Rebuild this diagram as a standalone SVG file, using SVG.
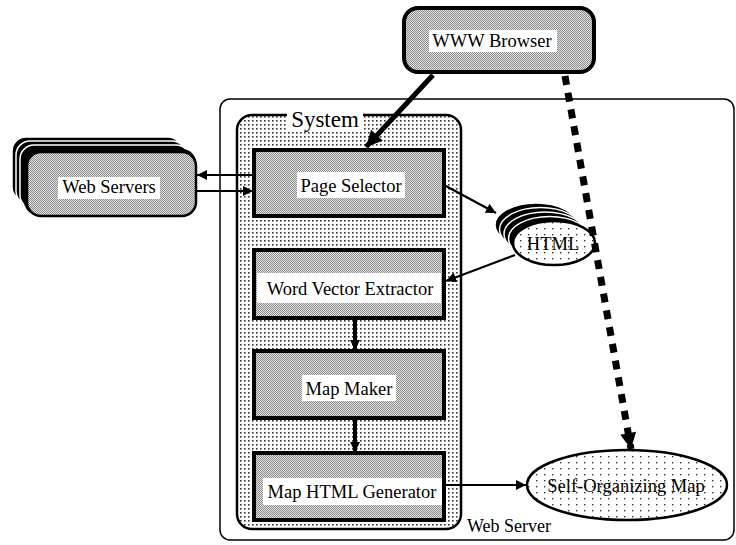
<svg xmlns="http://www.w3.org/2000/svg" width="736" height="545" viewBox="0 0 736 545">
<style>
text{font-family:"Liberation Serif","Times New Roman",serif;fill:#000}
.lbl{font-size:18.5px;text-anchor:middle}
.box{fill:url(#dense);stroke:#000;stroke-width:4}
.wbg{fill:#fff}
.thin{stroke:#000;stroke-width:2.2;fill:none}
.thick{stroke:#000;stroke-width:4;fill:none}
.stk{fill:#000;stroke:#fff;stroke-width:1.5}
</style>
<defs>
<pattern id="dense" width="2" height="2" patternUnits="userSpaceOnUse">
<rect width="2" height="2" fill="#e4e4e4"/>
<rect width="1" height="1" fill="#8a8a8a"/>
<rect x="1" y="1" width="1" height="1" fill="#8a8a8a"/>
</pattern>
<pattern id="dots" width="4" height="4" patternUnits="userSpaceOnUse">
<rect width="4" height="4" fill="#fff"/>
<rect width="1.6" height="1.6" fill="#333"/>
</pattern>
<pattern id="sparse" width="8" height="6" patternUnits="userSpaceOnUse">
<rect width="8" height="6" fill="#fff"/>
<rect width="1.4" height="1.4" fill="#333"/>
</pattern>
<marker id="ah" viewBox="0 0 10 10" refX="10" refY="5" markerWidth="12" markerHeight="10" markerUnits="userSpaceOnUse" orient="auto">
<path d="M0,0 L10,5 L0,10 z" fill="#000"/>
</marker>
<marker id="ahb" viewBox="0 0 10 10" refX="10" refY="5" markerWidth="18" markerHeight="16" markerUnits="userSpaceOnUse" orient="auto">
<path d="M0,0 L10,5 L0,10 z" fill="#000"/>
</marker>
</defs>

<g id="web-server">
<rect x="220" y="99" width="514" height="441" rx="10" fill="#fff" stroke="#000" stroke-width="1.5"/>
<text x="467" y="532" style="font-size:18px">Web Server</text>
</g>

<g id="system">
<rect x="237" y="115" width="224" height="414" rx="15" fill="url(#dots)" stroke="#000" stroke-width="2.5"/>
<rect x="287" y="107" width="76" height="24" class="wbg"/>
<text x="325" y="127" style="font-size:23px;text-anchor:middle">System</text>
</g>

<g id="www-browser">
<rect x="404" y="8" width="190" height="64" rx="14" class="box" stroke-width="3.5"/>
<rect x="429" y="30" width="128" height="22" class="wbg"/>
<text x="492" y="47" class="lbl">WWW Browser</text>
</g>

<g id="web-servers">
<rect x="12" y="137" width="170" height="64" rx="14" class="stk"/>
<rect x="16" y="141" width="170" height="64" rx="14" class="stk"/>
<rect x="20" y="145" width="170" height="64" rx="14" class="stk"/>
<rect x="24" y="149" width="172" height="66" rx="14" fill="#000"/>
<rect x="27" y="152" width="169" height="64" rx="14" fill="url(#dense)" stroke="#000" stroke-width="2.5"/>
<rect x="58" y="177" width="102" height="22" class="wbg"/>
<text x="109" y="193" class="lbl">Web Servers</text>
</g>

<g id="page-selector">
<rect x="254" y="150" width="190" height="66" class="box"/>
<rect x="297" y="172" width="108" height="26" class="wbg"/>
<text x="351" y="192" class="lbl">Page Selector</text>
</g>

<g id="html">
<ellipse cx="536" cy="225" rx="41" ry="22" class="stk"/>
<ellipse cx="540.5" cy="229.5" rx="41" ry="22" class="stk"/>
<ellipse cx="545" cy="234" rx="41" ry="22" class="stk"/>
<ellipse cx="549.5" cy="238.5" rx="41" ry="22" class="stk"/>
<ellipse cx="554" cy="243" rx="41" ry="22" fill="url(#sparse)" stroke="#000" stroke-width="2.5"/>
<text x="553" y="250" class="lbl">HTML</text>
</g>

<g id="word-vector-extractor">
<rect x="254" y="250" width="190" height="68" class="box"/>
<rect x="257" y="273" width="184" height="30" class="wbg"/>
<text x="350" y="295" class="lbl">Word Vector Extractor</text>
</g>

<g id="map-maker">
<rect x="254" y="351" width="190" height="67" class="box"/>
<rect x="302" y="375" width="94" height="26" class="wbg"/>
<text x="349" y="395" class="lbl">Map Maker</text>
</g>

<g id="map-html-generator">
<rect x="254" y="453" width="190" height="67" class="box"/>
<rect x="263" y="478" width="179" height="27" class="wbg"/>
<text x="352" y="498" class="lbl">Map HTML Generator</text>
</g>

<g id="self-organizing-map">
<ellipse cx="627" cy="485" rx="100" ry="35" fill="url(#sparse)" stroke="#000" stroke-width="2.5"/>
<text x="626" y="492" class="lbl">Self-Organizing Map</text>
</g>

<g id="connectors">
<line x1="433" y1="75" x2="366" y2="147" stroke="#000" stroke-width="5" marker-end="url(#ahb)"/>
<line x1="565" y1="76" x2="631" y2="449" stroke="#000" stroke-width="7" stroke-dasharray="9,8" marker-end="url(#ahb)"/>
<line x1="254" y1="175" x2="197" y2="175" class="thin" marker-end="url(#ah)"/>
<line x1="197" y1="191" x2="253" y2="191" class="thin" marker-end="url(#ah)"/>
<line x1="444" y1="185" x2="496" y2="213" class="thin" marker-end="url(#ah)"/>
<line x1="515" y1="255" x2="446" y2="281" class="thin" marker-end="url(#ah)"/>
<line x1="355" y1="318" x2="355" y2="350" class="thick" marker-end="url(#ah)"/>
<line x1="355" y1="418" x2="355" y2="452" class="thick" marker-end="url(#ah)"/>
<line x1="444" y1="485" x2="526" y2="485" class="thin" marker-end="url(#ah)"/>
</g>
</svg>
